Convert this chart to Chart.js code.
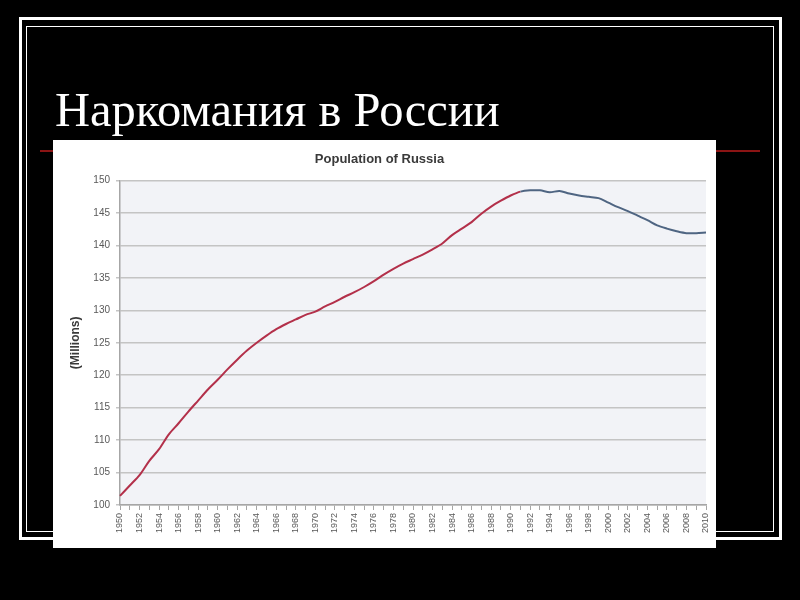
<!DOCTYPE html>
<html lang="ru">
<head>
  <meta charset="UTF-8">
  <title>Наркомания в России</title>
  <script src="https://cdn.jsdelivr.net/npm/chart.js"></script>
  <style>
    html, body { margin: 0; padding: 0; background: #000; }
    body { width: 800px; height: 600px; position: relative; overflow: hidden; }
    .frame-outer { position: absolute; left: 19px; top: 17px; width: 757px; height: 517px; border: 3px solid #fff; }
    .frame-inner { position: absolute; left: 26px; top: 26px; width: 746px; height: 504px; border: 1.5px solid #fff; }
    .rule { position: absolute; left: 40px; top: 150px; width: 720px; height: 2px; background: #8b1414; }
    h1 {
      position: absolute; left: 55px; top: 86px; margin: 0;
      font-family: "Liberation Serif", "DejaVu Serif", serif; font-weight: normal;
      font-size: 48.5px; line-height: 48px; color: #fff; white-space: nowrap;
    }
    .chart-box { position: absolute; left: 53px; top: 140px; width: 663px; height: 408px; background: #fff; }
  </style>
</head>
<body>
<div class="frame-outer"></div>
<div class="frame-inner"></div>
<h1>Наркомания в России</h1>
<div class="rule"></div>
<div class="chart-box">
  <canvas id="popChart"></canvas>
</div>
<script>
  // years on the x axis
  const years = [
    1950, 1951, 1952, 1953, 1954, 1955, 1956, 1957, 1958, 1959,
    1960, 1961, 1962, 1963, 1964, 1965, 1966, 1967, 1968, 1969,
    1970, 1971, 1972, 1973, 1974, 1975, 1976, 1977, 1978, 1979,
    1980, 1981, 1982, 1983, 1984, 1985, 1986, 1987, 1988, 1989,
    1990, 1991, 1992, 1993, 1994, 1995, 1996, 1997, 1998, 1999,
    2000, 2001, 2002, 2003, 2004, 2005, 2006, 2007, 2008, 2009,
    2010
  ];
  // population, millions
  const population = [
    101.4, 103.0, 104.6, 106.8, 108.6, 110.9, 112.6, 114.4, 116.1, 117.8,
    119.3, 120.9, 122.4, 123.8, 125.0, 126.1, 127.1, 127.9, 128.6, 129.3,
    129.8, 130.6, 131.3, 132.1, 132.8, 133.6, 134.5, 135.5, 136.4, 137.2,
    137.9, 138.6, 139.4, 140.3, 141.6, 142.6, 143.6, 144.9, 146.0, 146.9,
    147.7, 148.3, 148.5, 148.5, 148.2, 148.4, 148.0, 147.7, 147.5, 147.3,
    146.6, 145.9, 145.3, 144.6, 143.9, 143.1, 142.6, 142.2, 141.9, 141.9,
    142.0
  ];
  // line turns from red to blue here
  const splitYear = 1991;
  const yTicks = [100, 105, 110, 115, 120, 125, 130, 135, 140, 145, 150];

  const RED = '#b3304a';
  const BLUE = '#4f6582';
  const FONT = '"Liberation Sans", Arial, sans-serif';

  const plotBg = {
    id: 'plotBg',
    beforeDraw(chart) {
      const { ctx, chartArea: a } = chart;
      ctx.save();
      ctx.fillStyle = '#f2f3f7';
      ctx.fillRect(a.left, a.top, a.right - a.left, a.bottom - a.top);
      ctx.restore();
    }
  };

  const splitIdx = years.indexOf(splitYear);

  new Chart(document.getElementById('popChart'), {
    type: 'line',
    data: {
      labels: years,
      datasets: [{
        data: population,
        borderColor: RED,
        borderWidth: 2,
        pointRadius: 0,
        tension: 0.3,
        segment: {
          borderColor: c => c.p0DataIndex >= splitIdx ? BLUE : RED
        }
      }]
    },
    options: {
      responsive: true,
      maintainAspectRatio: false,
      animation: false,
      layout: { padding: { left: 0, right: 10, top: 0, bottom: 0 } },
      plugins: {
        legend: { display: false },
        tooltip: { enabled: false },
        title: {
          display: true,
          text: 'Population of Russia',
          color: '#3a3a3a',
          font: { family: FONT, size: 13, weight: 'bold' },
          padding: { top: 12, bottom: 13 }
        }
      },
      scales: {
        x: {
          grid: { display: true, drawOnChartArea: false, drawTicks: true, tickLength: 5, color: '#a6a6a6' },
          border: { color: '#a6a6a6', width: 1.5 },
          ticks: {
            autoSkip: false, maxRotation: 90, minRotation: 90, padding: 3,
            color: '#595959', font: { family: FONT, size: 9 },
            callback: (v, i) => (years[i] % 2 === 0 ? String(years[i]) : '')
          },
          afterFit: s => { s.height = 43; s.paddingLeft = 0; s.paddingRight = 0; }
        },
        y: {
          min: yTicks[0],
          max: yTicks[yTicks.length - 1],
          afterBuildTicks: s => { s.ticks = yTicks.map(v => ({ value: v })); },
          grid: { color: '#c4c4c4', lineWidth: 1.5, tickLength: 4 },
          border: { color: '#a6a6a6', width: 1.5 },
          ticks: { padding: 6, color: '#595959', font: { family: FONT, size: 10 } },
          title: {
            display: true,
            text: '(Millions)',
            color: '#3a3a3a',
            font: { family: FONT, size: 12, weight: 'bold' },
            padding: { top: 15, bottom: 0 }
          },
          afterFit: s => { s.width = 67; }
        }
      }
    },
    plugins: [plotBg]
  });
</script>
</body>
</html>
